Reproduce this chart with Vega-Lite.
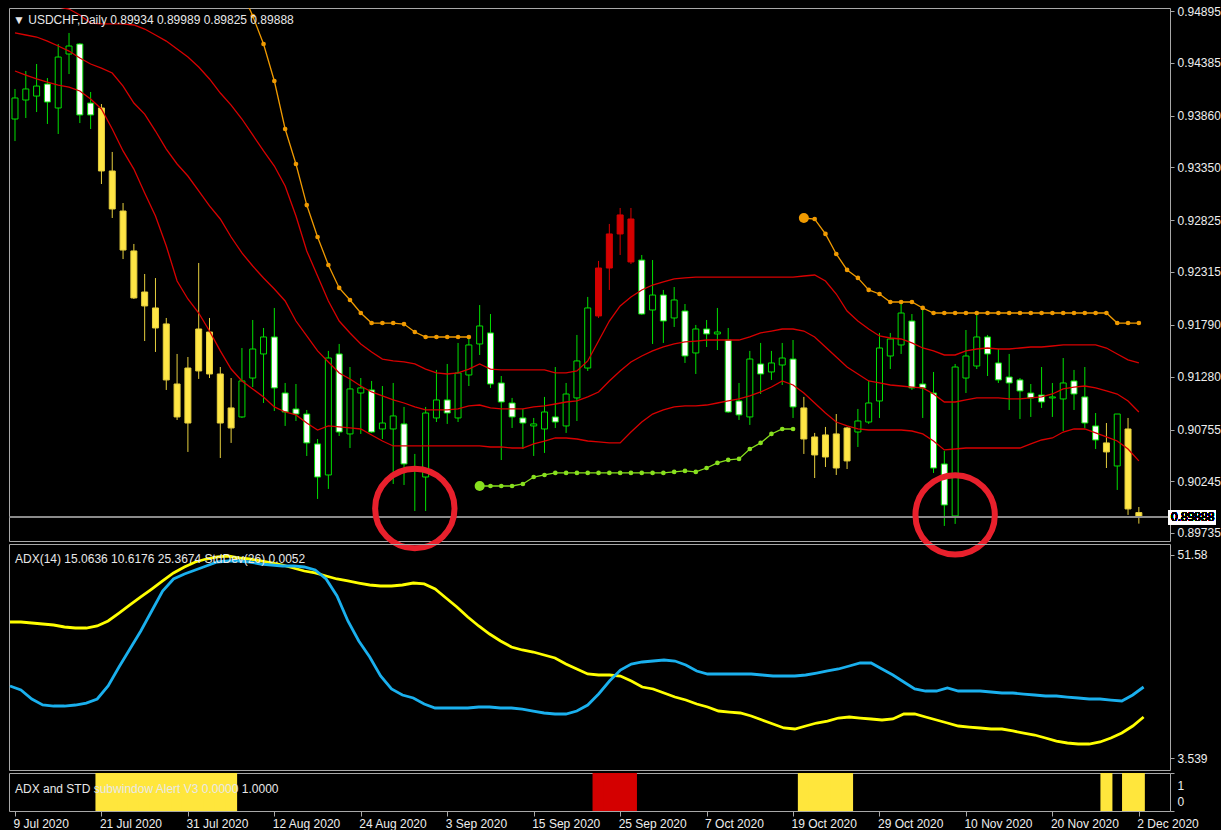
{
"$schema":"https://vega.github.io/schema/vega-lite/v6.json",
"background":"#000000",
"padding":{"left":3,"top":4,"right":0,"bottom":0},
"spacing":3,
"bounds":"flush",
"resolve":{"scale":{"color":"independent","fill":"independent","stroke":"independent"}},
"config":{
 "view":{"stroke":"#a8a8a8","strokeWidth":1},
 "axis":{"labelFont":"Liberation Sans","labelFontSize":12,"labelColor":"#eeeeee","tickColor":"#a8a8a8","domain":false,"grid":false,"labelOverlap":false,"labelFlush":false},
 "title":{"font":"Liberation Sans","fontSize":12,"fontWeight":"normal","color":"#e8e8e8","anchor":"start","frame":"group","baseline":"alphabetic"}
},
"datasets":{
"bars":[
{"i":0,"o":0.93827,"h":0.94124,"l":0.93609,"c":0.94035,"s":"n","u":0.95142,"m":0.94678,"d":0.94302,"a":35.72,"b":20.58},
{"i":1,"o":0.94015,"h":0.94302,"l":0.93837,"c":0.94124,"s":"n","u":0.95073,"m":0.94658,"d":0.94262,"a":35.72,"b":19.63},
{"i":2,"o":0.94054,"h":0.94371,"l":0.93896,"c":0.94153,"s":"n","u":0.95014,"m":0.94638,"d":0.94223,"a":35.49,"b":17.50},
{"i":3,"o":0.94173,"h":0.94232,"l":0.93778,"c":0.93995,"s":"n","u":0.94964,"m":0.94598,"d":0.94193,"a":35.25,"b":16.08},
{"i":4,"o":0.93936,"h":0.94569,"l":0.93679,"c":0.94440,"s":"n","u":0.94935,"m":0.94549,"d":0.94163,"a":35.01,"b":15.84},
{"i":5,"o":0.94470,"h":0.94678,"l":0.94272,"c":0.94549,"s":"n","u":0.94915,"m":0.94499,"d":0.94143,"a":34.54,"b":15.84},
{"i":6,"o":0.94569,"h":0.94579,"l":0.93787,"c":0.93867,"s":"n","u":0.94856,"m":0.94430,"d":0.94104,"a":34.30,"b":16.08},
{"i":7,"o":0.93985,"h":0.94094,"l":0.93728,"c":0.93867,"s":"n","u":0.94776,"m":0.94371,"d":0.94025,"a":34.30,"b":16.55},
{"i":8,"o":0.93936,"h":0.93975,"l":0.93184,"c":0.93313,"s":"y","u":0.94767,"m":0.94331,"d":0.93926,"a":34.78,"b":17.50},
{"i":9,"o":0.93313,"h":0.93501,"l":0.92848,"c":0.92937,"s":"y","u":0.94767,"m":0.94282,"d":0.93728,"a":35.96,"b":20.58},
{"i":10,"o":0.92917,"h":0.92996,"l":0.92442,"c":0.92531,"s":"y","u":0.94767,"m":0.94153,"d":0.93511,"a":37.85,"b":25.07},
{"i":11,"o":0.92522,"h":0.92591,"l":0.92047,"c":0.92057,"s":"y","u":0.94757,"m":0.93985,"d":0.93332,"a":39.75,"b":29.33},
{"i":12,"o":0.92116,"h":0.92294,"l":0.91631,"c":0.91978,"s":"y","u":0.94717,"m":0.93876,"d":0.93095,"a":41.64,"b":33.59},
{"i":13,"o":0.91958,"h":0.92254,"l":0.91523,"c":0.91760,"s":"y","u":0.94658,"m":0.93708,"d":0.92868,"a":43.53,"b":38.33},
{"i":14,"o":0.91800,"h":0.91859,"l":0.91147,"c":0.91246,"s":"y","u":0.94598,"m":0.93530,"d":0.92571,"a":45.43,"b":43.06},
{"i":15,"o":0.91206,"h":0.91503,"l":0.90850,"c":0.90880,"s":"y","u":0.94519,"m":0.93382,"d":0.92225,"a":47.32,"b":45.90},
{"i":16,"o":0.90820,"h":0.91473,"l":0.90534,"c":0.91364,"s":"y","u":0.94440,"m":0.93263,"d":0.92047,"a":48.74,"b":47.08},
{"i":17,"o":0.91335,"h":0.92403,"l":0.91256,"c":0.91750,"s":"y","u":0.94341,"m":0.93115,"d":0.91908,"a":49.92,"b":48.03},
{"i":18,"o":0.91720,"h":0.91859,"l":0.91265,"c":0.91305,"s":"y","u":0.94223,"m":0.92967,"d":0.91730,"a":50.63,"b":48.98},
{"i":19,"o":0.91305,"h":0.91374,"l":0.90474,"c":0.90820,"s":"y","u":0.94084,"m":0.92838,"d":0.91533,"a":51.11,"b":49.92},
{"i":20,"o":0.90771,"h":0.91265,"l":0.90623,"c":0.90969,"s":"y","u":0.93965,"m":0.92660,"d":0.91354,"a":51.34,"b":50.16},
{"i":21,"o":0.90880,"h":0.91562,"l":0.90870,"c":0.91236,"s":"n","u":0.93827,"m":0.92502,"d":0.91236,"a":50.87,"b":50.16},
{"i":22,"o":0.91265,"h":0.91839,"l":0.91176,"c":0.91552,"s":"n","u":0.93669,"m":0.92373,"d":0.91157,"a":50.63,"b":49.92},
{"i":23,"o":0.91503,"h":0.91760,"l":0.91018,"c":0.91671,"s":"n","u":0.93511,"m":0.92255,"d":0.91078,"a":50.16,"b":49.45},
{"i":24,"o":0.91671,"h":0.91958,"l":0.90939,"c":0.91167,"s":"n","u":0.93362,"m":0.92146,"d":0.90979,"a":49.69,"b":49.21},
{"i":25,"o":0.91117,"h":0.91216,"l":0.90791,"c":0.90929,"s":"n","u":0.93164,"m":0.92027,"d":0.90929,"a":49.21,"b":48.98},
{"i":26,"o":0.90959,"h":0.91206,"l":0.90840,"c":0.90909,"s":"n","u":0.92868,"m":0.91829,"d":0.90900,"a":48.50,"b":48.98},
{"i":27,"o":0.90909,"h":0.90949,"l":0.90494,"c":0.90623,"s":"n","u":0.92522,"m":0.91681,"d":0.90820,"a":47.79,"b":48.74},
{"i":28,"o":0.90613,"h":0.90662,"l":0.90069,"c":0.90286,"s":"n","u":0.92274,"m":0.91533,"d":0.90751,"a":47.32,"b":48.03},
{"i":29,"o":0.90306,"h":0.91533,"l":0.90168,"c":0.91463,"s":"n","u":0.92027,"m":0.91424,"d":0.90791,"a":46.61,"b":45.90},
{"i":30,"o":0.91503,"h":0.91602,"l":0.90692,"c":0.90731,"s":"n","u":0.91829,"m":0.91315,"d":0.90781,"a":45.90,"b":41.88},
{"i":31,"o":0.90712,"h":0.91374,"l":0.90573,"c":0.91157,"s":"n","u":0.91711,"m":0.91256,"d":0.90771,"a":45.43,"b":35.96},
{"i":32,"o":0.91117,"h":0.91265,"l":0.90712,"c":0.91167,"s":"n","u":0.91602,"m":0.91186,"d":0.90761,"a":44.95,"b":31.23},
{"i":33,"o":0.91147,"h":0.91236,"l":0.90722,"c":0.90731,"s":"n","u":0.91523,"m":0.91127,"d":0.90702,"a":44.48,"b":27.44},
{"i":34,"o":0.90761,"h":0.91186,"l":0.90662,"c":0.90820,"s":"n","u":0.91453,"m":0.91088,"d":0.90642,"a":44.24,"b":22.94},
{"i":35,"o":0.90761,"h":0.91216,"l":0.90217,"c":0.90890,"s":"n","u":0.91434,"m":0.91048,"d":0.90593,"a":44.24,"b":19.87},
{"i":36,"o":0.90811,"h":0.90979,"l":0.90207,"c":0.90415,"s":"n","u":0.91424,"m":0.91018,"d":0.90593,"a":44.48,"b":18.45},
{"i":37,"o":0.90375,"h":0.90514,"l":0.89950,"c":0.90346,"s":"n","u":0.91404,"m":0.90979,"d":0.90593,"a":44.95,"b":17.74},
{"i":38,"o":0.90286,"h":0.90979,"l":0.89950,"c":0.90919,"s":"n","u":0.91354,"m":0.90949,"d":0.90593,"a":44.72,"b":16.32},
{"i":39,"o":0.90870,"h":0.91345,"l":0.90830,"c":0.91048,"s":"n","u":0.91315,"m":0.90949,"d":0.90593,"a":43.53,"b":15.37},
{"i":40,"o":0.91048,"h":0.91404,"l":0.90811,"c":0.90919,"s":"n","u":0.91305,"m":0.90949,"d":0.90593,"a":41.40,"b":15.37},
{"i":41,"o":0.90870,"h":0.91612,"l":0.90830,"c":0.91315,"s":"n","u":0.91315,"m":0.90959,"d":0.90593,"a":39.27,"b":15.37},
{"i":42,"o":0.91295,"h":0.91661,"l":0.91186,"c":0.91592,"s":"n","u":0.91354,"m":0.90989,"d":0.90593,"a":36.91,"b":15.37},
{"i":43,"o":0.91602,"h":0.91987,"l":0.91493,"c":0.91780,"s":"n","u":0.91404,"m":0.90998,"d":0.90593,"a":34.78,"b":15.61},
{"i":44,"o":0.91711,"h":0.91898,"l":0.91167,"c":0.91206,"s":"n","u":0.91354,"m":0.90969,"d":0.90583,"a":32.88,"b":15.61},
{"i":45,"o":0.91216,"h":0.91285,"l":0.90454,"c":0.91028,"s":"n","u":0.91345,"m":0.90959,"d":0.90583,"a":31.23,"b":15.37},
{"i":46,"o":0.91018,"h":0.91068,"l":0.90771,"c":0.90880,"s":"n","u":0.91345,"m":0.90959,"d":0.90573,"a":29.81,"b":15.37},
{"i":47,"o":0.90870,"h":0.90959,"l":0.90563,"c":0.90820,"s":"n","u":0.91345,"m":0.90959,"d":0.90573,"a":29.10,"b":15.13},
{"i":48,"o":0.90791,"h":0.90870,"l":0.90494,"c":0.90811,"s":"n","u":0.91345,"m":0.90979,"d":0.90613,"a":28.62,"b":14.66},
{"i":49,"o":0.90761,"h":0.91078,"l":0.90524,"c":0.90929,"s":"n","u":0.91345,"m":0.90989,"d":0.90642,"a":27.91,"b":14.19},
{"i":50,"o":0.90880,"h":0.91374,"l":0.90771,"c":0.90830,"s":"n","u":0.91315,"m":0.91008,"d":0.90672,"a":27.20,"b":13.95},
{"i":51,"o":0.90791,"h":0.91216,"l":0.90722,"c":0.91107,"s":"n","u":0.91315,"m":0.91028,"d":0.90672,"a":25.78,"b":13.95},
{"i":52,"o":0.91068,"h":0.91691,"l":0.90840,"c":0.91434,"s":"n","u":0.91335,"m":0.91038,"d":0.90662,"a":24.60,"b":14.66},
{"i":53,"o":0.91364,"h":0.92067,"l":0.91335,"c":0.91958,"s":"n","u":0.91434,"m":0.91078,"d":0.90642,"a":23.42,"b":16.08},
{"i":54,"o":0.91879,"h":0.92423,"l":0.91859,"c":0.92353,"s":"r","u":0.91631,"m":0.91127,"d":0.90633,"a":23.18,"b":18.68},
{"i":55,"o":0.92353,"h":0.92789,"l":0.92136,"c":0.92690,"s":"r","u":0.91829,"m":0.91236,"d":0.90623,"a":23.18,"b":21.76},
{"i":56,"o":0.92690,"h":0.92947,"l":0.92482,"c":0.92878,"s":"r","u":0.91978,"m":0.91335,"d":0.90623,"a":22.94,"b":24.36},
{"i":57,"o":0.92838,"h":0.92947,"l":0.92393,"c":0.92413,"s":"r","u":0.92067,"m":0.91424,"d":0.90731,"a":21.76,"b":25.78},
{"i":58,"o":0.92432,"h":0.92482,"l":0.91889,"c":0.91898,"s":"n","u":0.92136,"m":0.91483,"d":0.90830,"a":20.34,"b":26.26},
{"i":59,"o":0.91938,"h":0.92432,"l":0.91602,"c":0.92086,"s":"n","u":0.92185,"m":0.91533,"d":0.90909,"a":19.87,"b":26.49},
{"i":60,"o":0.92086,"h":0.92136,"l":0.91612,"c":0.91829,"s":"n","u":0.92215,"m":0.91572,"d":0.90949,"a":18.92,"b":26.73},
{"i":61,"o":0.91859,"h":0.92165,"l":0.91770,"c":0.92037,"s":"n","u":0.92245,"m":0.91602,"d":0.90979,"a":17.97,"b":26.49},
{"i":62,"o":0.91928,"h":0.91997,"l":0.91414,"c":0.91483,"s":"n","u":0.92255,"m":0.91622,"d":0.90989,"a":17.26,"b":25.55},
{"i":63,"o":0.91513,"h":0.91790,"l":0.91305,"c":0.91750,"s":"n","u":0.92264,"m":0.91631,"d":0.90989,"a":16.32,"b":24.13},
{"i":64,"o":0.91750,"h":0.91839,"l":0.91572,"c":0.91701,"s":"n","u":0.92264,"m":0.91641,"d":0.90998,"a":15.61,"b":23.42},
{"i":65,"o":0.91701,"h":0.91958,"l":0.91542,"c":0.91720,"s":"n","u":0.92264,"m":0.91641,"d":0.91018,"a":14.66,"b":23.42},
{"i":66,"o":0.91641,"h":0.91760,"l":0.90919,"c":0.90929,"s":"n","u":0.92264,"m":0.91641,"d":0.91038,"a":14.42,"b":23.42},
{"i":67,"o":0.91038,"h":0.91216,"l":0.90850,"c":0.90900,"s":"n","u":0.92264,"m":0.91641,"d":0.91058,"a":14.19,"b":23.42},
{"i":68,"o":0.90880,"h":0.91533,"l":0.90801,"c":0.91453,"s":"n","u":0.92264,"m":0.91671,"d":0.91088,"a":13.48,"b":23.42},
{"i":69,"o":0.91404,"h":0.91612,"l":0.91107,"c":0.91305,"s":"n","u":0.92264,"m":0.91711,"d":0.91127,"a":12.53,"b":23.18},
{"i":70,"o":0.91325,"h":0.91533,"l":0.91246,"c":0.91414,"s":"n","u":0.92264,"m":0.91730,"d":0.91176,"a":11.58,"b":22.94},
{"i":71,"o":0.91394,"h":0.91612,"l":0.91196,"c":0.91463,"s":"n","u":0.92264,"m":0.91750,"d":0.91236,"a":10.64,"b":22.94},
{"i":72,"o":0.91453,"h":0.91641,"l":0.90870,"c":0.90979,"s":"n","u":0.92264,"m":0.91750,"d":0.91196,"a":10.40,"b":22.94},
{"i":73,"o":0.90969,"h":0.91078,"l":0.90514,"c":0.90662,"s":"y","u":0.92274,"m":0.91730,"d":0.91117,"a":11.11,"b":23.18},
{"i":74,"o":0.90682,"h":0.90722,"l":0.90276,"c":0.90504,"s":"y","u":0.92284,"m":0.91671,"d":0.91018,"a":11.82,"b":23.65},
{"i":75,"o":0.90484,"h":0.90781,"l":0.90385,"c":0.90702,"s":"y","u":0.92225,"m":0.91572,"d":0.90919,"a":12.29,"b":24.13},
{"i":76,"o":0.90712,"h":0.90909,"l":0.90306,"c":0.90375,"s":"y","u":0.92096,"m":0.91473,"d":0.90830,"a":13.00,"b":24.60},
{"i":77,"o":0.90445,"h":0.90781,"l":0.90365,"c":0.90771,"s":"y","u":0.91928,"m":0.91374,"d":0.90791,"a":13.24,"b":25.31},
{"i":78,"o":0.90731,"h":0.90959,"l":0.90583,"c":0.90840,"s":"n","u":0.91829,"m":0.91305,"d":0.90761,"a":13.00,"b":26.02},
{"i":79,"o":0.90830,"h":0.91236,"l":0.90811,"c":0.91018,"s":"n","u":0.91750,"m":0.91236,"d":0.90751,"a":12.77,"b":26.02},
{"i":80,"o":0.91038,"h":0.91711,"l":0.90870,"c":0.91562,"s":"n","u":0.91681,"m":0.91216,"d":0.90751,"a":12.53,"b":24.60},
{"i":81,"o":0.91483,"h":0.91711,"l":0.91354,"c":0.91651,"s":"n","u":0.91661,"m":0.91196,"d":0.90751,"a":12.77,"b":23.18},
{"i":82,"o":0.91592,"h":0.92017,"l":0.91503,"c":0.91908,"s":"n","u":0.91651,"m":0.91186,"d":0.90751,"a":13.95,"b":21.52},
{"i":83,"o":0.91829,"h":0.91898,"l":0.91147,"c":0.91167,"s":"n","u":0.91612,"m":0.91176,"d":0.90741,"a":13.95,"b":19.87},
{"i":84,"o":0.91206,"h":0.91958,"l":0.90870,"c":0.91167,"s":"n","u":0.91562,"m":0.91167,"d":0.90712,"a":13.24,"b":19.39},
{"i":85,"o":0.91117,"h":0.91325,"l":0.90326,"c":0.90375,"s":"n","u":0.91533,"m":0.91107,"d":0.90642,"a":12.53,"b":19.39},
{"i":86,"o":0.90415,"h":0.90544,"l":0.89802,"c":0.90009,"s":"n","u":0.91493,"m":0.91028,"d":0.90554,"a":11.82,"b":20.10},
{"i":87,"o":0.89901,"h":0.91404,"l":0.89822,"c":0.91374,"s":"n","u":0.91493,"m":0.91028,"d":0.90563,"a":11.11,"b":19.39},
{"i":88,"o":0.91265,"h":0.91740,"l":0.91117,"c":0.91483,"s":"n","u":0.91533,"m":0.91048,"d":0.90573,"a":10.87,"b":19.39},
{"i":89,"o":0.91384,"h":0.91898,"l":0.91354,"c":0.91671,"s":"n","u":0.91552,"m":0.91068,"d":0.90573,"a":10.64,"b":19.39},
{"i":90,"o":0.91671,"h":0.91691,"l":0.91285,"c":0.91503,"s":"n","u":0.91562,"m":0.91068,"d":0.90573,"a":10.40,"b":19.16},
{"i":91,"o":0.91414,"h":0.91552,"l":0.91216,"c":0.91246,"s":"n","u":0.91552,"m":0.91068,"d":0.90573,"a":10.40,"b":18.92},
{"i":92,"o":0.91275,"h":0.91503,"l":0.90949,"c":0.91216,"s":"n","u":0.91552,"m":0.91058,"d":0.90573,"a":9.93,"b":18.92},
{"i":93,"o":0.91246,"h":0.91265,"l":0.90860,"c":0.91137,"s":"n","u":0.91562,"m":0.91058,"d":0.90573,"a":9.45,"b":18.68},
{"i":94,"o":0.91117,"h":0.91206,"l":0.90880,"c":0.91068,"s":"n","u":0.91572,"m":0.91068,"d":0.90613,"a":8.98,"b":18.45},
{"i":95,"o":0.91097,"h":0.91374,"l":0.90969,"c":0.91028,"s":"n","u":0.91572,"m":0.91078,"d":0.90652,"a":8.27,"b":18.21},
{"i":96,"o":0.91068,"h":0.91216,"l":0.90880,"c":0.91078,"s":"n","u":0.91582,"m":0.91107,"d":0.90672,"a":7.56,"b":18.21},
{"i":97,"o":0.91058,"h":0.91463,"l":0.90741,"c":0.91216,"s":"n","u":0.91592,"m":0.91157,"d":0.90731,"a":7.09,"b":17.97},
{"i":98,"o":0.91236,"h":0.91345,"l":0.90949,"c":0.91107,"s":"n","u":0.91592,"m":0.91176,"d":0.90761,"a":6.85,"b":17.74},
{"i":99,"o":0.91078,"h":0.91374,"l":0.90771,"c":0.90820,"s":"n","u":0.91592,"m":0.91186,"d":0.90761,"a":6.85,"b":17.50},
{"i":100,"o":0.90791,"h":0.90919,"l":0.90563,"c":0.90652,"s":"n","u":0.91592,"m":0.91167,"d":0.90722,"a":7.33,"b":17.50},
{"i":101,"o":0.90623,"h":0.90820,"l":0.90375,"c":0.90534,"s":"y","u":0.91562,"m":0.91137,"d":0.90682,"a":8.27,"b":17.26},
{"i":102,"o":0.90395,"h":0.90909,"l":0.90158,"c":0.90909,"s":"n","u":0.91503,"m":0.91107,"d":0.90642,"a":9.45,"b":17.03},
{"i":103,"o":0.90761,"h":0.90870,"l":0.89911,"c":0.89970,"s":"y","u":0.91444,"m":0.91038,"d":0.90563,"a":11.11,"b":18.45},
{"i":104,"o":0.89934,"h":0.89989,"l":0.89825,"c":0.89888,"s":"y","u":0.91414,"m":0.90929,"d":0.90445,"a":13.24,"b":20.34}
],
"dots":[
{"i":21,"v":0.95093,"seg":"r1"},{"i":22,"v":0.94846,"seg":"r1"},{"i":23,"v":0.94569,"seg":"r1"},{"i":24,"v":0.94203,"seg":"r1"},{"i":25,"v":0.93728,"seg":"r1"},{"i":26,"v":0.93382,"seg":"r1"},{"i":27,"v":0.92976,"seg":"r1"},{"i":28,"v":0.92660,"seg":"r1"},{"i":29,"v":0.92383,"seg":"r1"},{"i":30,"v":0.92156,"seg":"r1"},{"i":31,"v":0.92037,"seg":"r1"},{"i":32,"v":0.91908,"seg":"r1"},{"i":33,"v":0.91809,"seg":"r1"},{"i":34,"v":0.91809,"seg":"r1"},{"i":35,"v":0.91809,"seg":"r1"},{"i":36,"v":0.91799,"seg":"r1"},{"i":37,"v":0.91720,"seg":"r1"},{"i":38,"v":0.91671,"seg":"r1"},{"i":39,"v":0.91671,"seg":"r1"},{"i":40,"v":0.91671,"seg":"r1"},{"i":41,"v":0.91671,"seg":"r1"},{"i":42,"v":0.91671,"seg":"r1"},
{"i":73,"v":0.92848,"seg":"r2"},{"i":74,"v":0.92838,"seg":"r2"},{"i":75,"v":0.92690,"seg":"r2"},{"i":76,"v":0.92492,"seg":"r2"},{"i":77,"v":0.92334,"seg":"r2"},{"i":78,"v":0.92255,"seg":"r2"},{"i":79,"v":0.92136,"seg":"r2"},{"i":80,"v":0.92096,"seg":"r2"},{"i":81,"v":0.92017,"seg":"r2"},{"i":82,"v":0.92017,"seg":"r2"},{"i":83,"v":0.92017,"seg":"r2"},{"i":84,"v":0.91958,"seg":"r2"},{"i":85,"v":0.91908,"seg":"r2"},{"i":86,"v":0.91908,"seg":"r2"},{"i":87,"v":0.91908,"seg":"r2"},{"i":88,"v":0.91908,"seg":"r2"},{"i":89,"v":0.91908,"seg":"r2"},{"i":90,"v":0.91908,"seg":"r2"},{"i":91,"v":0.91908,"seg":"r2"},{"i":92,"v":0.91908,"seg":"r2"},{"i":93,"v":0.91908,"seg":"r2"},{"i":94,"v":0.91908,"seg":"r2"},{"i":95,"v":0.91908,"seg":"r2"},{"i":96,"v":0.91908,"seg":"r2"},{"i":97,"v":0.91908,"seg":"r2"},{"i":98,"v":0.91908,"seg":"r2"},{"i":99,"v":0.91908,"seg":"r2"},{"i":100,"v":0.91908,"seg":"r2"},{"i":101,"v":0.91908,"seg":"r2"},{"i":102,"v":0.91809,"seg":"r2"},{"i":103,"v":0.91809,"seg":"r2"},{"i":104,"v":0.91809,"seg":"r2"},
{"i":43,"v":0.90197,"seg":"s1"},{"i":44,"v":0.90197,"seg":"s1"},{"i":45,"v":0.90197,"seg":"s1"},{"i":46,"v":0.90197,"seg":"s1"},{"i":47,"v":0.90217,"seg":"s1"},{"i":48,"v":0.90286,"seg":"s1"},{"i":49,"v":0.90306,"seg":"s1"},{"i":50,"v":0.90326,"seg":"s1"},{"i":51,"v":0.90326,"seg":"s1"},{"i":52,"v":0.90326,"seg":"s1"},{"i":53,"v":0.90326,"seg":"s1"},{"i":54,"v":0.90326,"seg":"s1"},{"i":55,"v":0.90326,"seg":"s1"},{"i":56,"v":0.90326,"seg":"s1"},{"i":57,"v":0.90326,"seg":"s1"},{"i":58,"v":0.90326,"seg":"s1"},{"i":59,"v":0.90326,"seg":"s1"},{"i":60,"v":0.90326,"seg":"s1"},{"i":61,"v":0.90336,"seg":"s1"},{"i":62,"v":0.90346,"seg":"s1"},{"i":63,"v":0.90336,"seg":"s1"},{"i":64,"v":0.90375,"seg":"s1"},{"i":65,"v":0.90425,"seg":"s1"},{"i":66,"v":0.90455,"seg":"s1"},{"i":67,"v":0.90465,"seg":"s1"},{"i":68,"v":0.90563,"seg":"s1"},{"i":69,"v":0.90623,"seg":"s1"},{"i":70,"v":0.90712,"seg":"s1"},{"i":71,"v":0.90761,"seg":"s1"},{"i":72,"v":0.90761,"seg":"s1"}
],
"rings":[{"i":37,"p":0.89975},{"i":87,"p":0.89911}]
},
"vconcat":[
{
"width":1161,"height":533,
"title":{"text":"▼ USDCHF,Daily  0.89934 0.89989 0.89825 0.89888","offset":-22,"dx":4},
"data":{"name":"bars"},
"transform":[{"calculate":"datum.s == 'n' ? (datum.c >= datum.o ? 'up' : 'dn') : datum.s","as":"k"}],
"layer":[
{"mark":{"type":"rule","strokeWidth":1,"clip":true},
 "encoding":{
  "x":{"field":"i","type":"quantitative","scale":{"domain":[-0.0917,106.42],"nice":false,"zero":false},"axis":null},
  "y":{"field":"l","type":"quantitative","scale":{"domain":[0.89653,0.94925],"nice":false,"zero":false},"title":null,
       "axis":{"orient":"right","values":[0.94895,0.94385,0.9386,0.9335,0.92825,0.92315,0.9179,0.9128,0.90755,0.90245,0.89735],"format":".5f","tickSize":4,"labelPadding":3,"title":null}},
  "y2":{"field":"h","title":null},
  "stroke":{"field":"k","type":"nominal","scale":{"domain":["up","dn","y","r"],"range":["#00e000","#00e000","#e6cf3e","#d40000"]},"legend":null}}},
{"mark":{"type":"bar","width":6,"strokeWidth":1,"orient":"vertical","clip":true},
 "encoding":{
  "x":{"field":"i","type":"quantitative","scale":{"domain":[-0.0917,106.42],"nice":false,"zero":false},"axis":null},
  "y":{"field":"o","type":"quantitative","scale":{"domain":[0.89653,0.94925],"nice":false,"zero":false},"title":null,
       "axis":{"orient":"right","values":[0.94895,0.94385,0.9386,0.9335,0.92825,0.92315,0.9179,0.9128,0.90755,0.90245,0.89735],"format":".5f","tickSize":4,"labelPadding":3,"title":null}},
  "y2":{"field":"c","title":null},
  "fill":{"field":"k","type":"nominal","scale":{"domain":["up","dn","y","r"],"range":["#000000","#ffffff","#ffe645","#d40000"]},"legend":null},
  "stroke":{"field":"k","type":"nominal","legend":null}}},
{"mark":{"type":"line","color":"#d80000","strokeWidth":1.3,"clip":true},
 "encoding":{
  "x":{"field":"i","type":"quantitative","scale":{"domain":[-0.0917,106.42],"nice":false,"zero":false},"axis":null},
  "y":{"field":"u","type":"quantitative","scale":{"domain":[0.89653,0.94925],"nice":false,"zero":false},"title":null,
       "axis":{"orient":"right","values":[0.94895,0.94385,0.9386,0.9335,0.92825,0.92315,0.9179,0.9128,0.90755,0.90245,0.89735],"format":".5f","tickSize":4,"labelPadding":3,"title":null}}}},
{"mark":{"type":"line","color":"#d80000","strokeWidth":1.3,"clip":true},
 "encoding":{
  "x":{"field":"i","type":"quantitative","scale":{"domain":[-0.0917,106.42],"nice":false,"zero":false},"axis":null},
  "y":{"field":"m","type":"quantitative","scale":{"domain":[0.89653,0.94925],"nice":false,"zero":false},"title":null,
       "axis":{"orient":"right","values":[0.94895,0.94385,0.9386,0.9335,0.92825,0.92315,0.9179,0.9128,0.90755,0.90245,0.89735],"format":".5f","tickSize":4,"labelPadding":3,"title":null}}}},
{"mark":{"type":"line","color":"#d80000","strokeWidth":1.3,"clip":true},
 "encoding":{
  "x":{"field":"i","type":"quantitative","scale":{"domain":[-0.0917,106.42],"nice":false,"zero":false},"axis":null},
  "y":{"field":"d","type":"quantitative","scale":{"domain":[0.89653,0.94925],"nice":false,"zero":false},"title":null,
       "axis":{"orient":"right","values":[0.94895,0.94385,0.9386,0.9335,0.92825,0.92315,0.9179,0.9128,0.90755,0.90245,0.89735],"format":".5f","tickSize":4,"labelPadding":3,"title":null}}}},
{"mark":{"type":"rule","color":"#8c8c8c","strokeWidth":1},
 "encoding":{
  "y":{"datum":0.89888,"type":"quantitative","scale":{"domain":[0.89653,0.94925],"nice":false,"zero":false},"title":null,
       "axis":{"orient":"right","values":[0.94895,0.94385,0.9386,0.9335,0.92825,0.92315,0.9179,0.9128,0.90755,0.90245,0.89735],"format":".5f","tickSize":4,"labelPadding":3,"title":null}}}},
{"data":{"name":"dots"},
 "mark":{"type":"line","strokeWidth":1.3,"clip":true},
 "encoding":{
  "x":{"field":"i","type":"quantitative","scale":{"domain":[-0.0917,106.42],"nice":false,"zero":false},"axis":null},
  "y":{"field":"v","type":"quantitative","scale":{"domain":[0.89653,0.94925],"nice":false,"zero":false},"title":null,
       "axis":{"orient":"right","values":[0.94895,0.94385,0.9386,0.9335,0.92825,0.92315,0.9179,0.9128,0.90755,0.90245,0.89735],"format":".5f","tickSize":4,"labelPadding":3,"title":null}},
  "detail":{"field":"seg","type":"nominal"},
  "color":{"field":"seg","type":"nominal","scale":{"domain":["r1","r2","s1"],"range":["#f09a00","#f09a00","#88e01e"]},"legend":null}}},
{"data":{"name":"dots"},
 "mark":{"type":"point","filled":true,"size":22,"opacity":1,"clip":true},
 "encoding":{
  "x":{"field":"i","type":"quantitative","scale":{"domain":[-0.0917,106.42],"nice":false,"zero":false},"axis":null},
  "y":{"field":"v","type":"quantitative","scale":{"domain":[0.89653,0.94925],"nice":false,"zero":false},"title":null,
       "axis":{"orient":"right","values":[0.94895,0.94385,0.9386,0.9335,0.92825,0.92315,0.9179,0.9128,0.90755,0.90245,0.89735],"format":".5f","tickSize":4,"labelPadding":3,"title":null}},
  "color":{"field":"seg","type":"nominal","legend":null}}},
{"data":{"name":"dots"},
 "transform":[{"joinaggregate":[{"op":"min","field":"i","as":"i0"}],"groupby":["seg"]},{"filter":"datum.i == datum.i0"}],
 "mark":{"type":"point","filled":true,"size":100,"opacity":1,"clip":true},
 "encoding":{
  "x":{"field":"i","type":"quantitative","scale":{"domain":[-0.0917,106.42],"nice":false,"zero":false},"axis":null},
  "y":{"field":"v","type":"quantitative","scale":{"domain":[0.89653,0.94925],"nice":false,"zero":false},"title":null,
       "axis":{"orient":"right","values":[0.94895,0.94385,0.9386,0.9335,0.92825,0.92315,0.9179,0.9128,0.90755,0.90245,0.89735],"format":".5f","tickSize":4,"labelPadding":3,"title":null}},
  "color":{"field":"seg","type":"nominal","legend":null}}},
{"data":{"name":"rings"},
 "mark":{"type":"point","shape":"circle","filled":false,"size":6300,"stroke":"#e8202c","strokeWidth":6,"opacity":1},
 "encoding":{
  "x":{"field":"i","type":"quantitative","scale":{"domain":[-0.0917,106.42],"nice":false,"zero":false},"axis":null},
  "y":{"field":"p","type":"quantitative","scale":{"domain":[0.89653,0.94925],"nice":false,"zero":false},"title":null,
       "axis":{"orient":"right","values":[0.94895,0.94385,0.9386,0.9335,0.92825,0.92315,0.9179,0.9128,0.90755,0.90245,0.89735],"format":".5f","tickSize":4,"labelPadding":3,"title":null}}}},
{"mark":{"type":"point","shape":"M-1,-0.3H1V0.3H-1Z","filled":true,"color":"#ffffff","size":2209,"opacity":1,"xOffset":27},
 "encoding":{
  "x":{"datum":106.42,"type":"quantitative","scale":{"domain":[-0.0917,106.42],"nice":false,"zero":false},"axis":null},
  "y":{"datum":0.89888,"type":"quantitative","scale":{"domain":[0.89653,0.94925],"nice":false,"zero":false},"title":null,
       "axis":{"orient":"right","values":[0.94895,0.94385,0.9386,0.9335,0.92825,0.92315,0.9179,0.9128,0.90755,0.90245,0.89735],"format":".5f","tickSize":4,"labelPadding":3,"title":null}}}},
{"mark":{"type":"text","align":"left","baseline":"middle","color":"#000000","font":"Liberation Sans","fontSize":12,"xOffset":6},
 "encoding":{
  "x":{"datum":106.42,"type":"quantitative","scale":{"domain":[-0.0917,106.42],"nice":false,"zero":false},"axis":null},
  "y":{"datum":0.89888,"type":"quantitative","scale":{"domain":[0.89653,0.94925],"nice":false,"zero":false},"title":null,
       "axis":{"orient":"right","values":[0.94895,0.94385,0.9386,0.9335,0.92825,0.92315,0.9179,0.9128,0.90755,0.90245,0.89735],"format":".5f","tickSize":4,"labelPadding":3,"title":null}},
  "text":{"value":"0.89888"}}}
]
},
{
"width":1161,"height":226,
"title":{"text":"ADX(14) 15.0636 10.6176 25.3674  StdDev(26) 0.0052","offset":-22,"dx":6},
"data":{"name":"bars"},
"layer":[
{"mark":{"type":"line","color":"#ffff00","strokeWidth":2.8},
 "encoding":{
  "x":{"field":"i","type":"quantitative","scale":{"domain":[-0.0917,106.42],"nice":false,"zero":false},"axis":null},
  "y":{"field":"a","type":"quantitative","scale":{"domain":[0.70,54.18],"nice":false,"zero":false},"title":null,
       "axis":{"orient":"right","values":[51.58,3.539],"labelExpr":"'' + datum.value","tickSize":4,"labelPadding":3,"title":null}}}},
{"mark":{"type":"line","color":"#1ab0ee","strokeWidth":2.8},
 "encoding":{
  "x":{"field":"i","type":"quantitative","scale":{"domain":[-0.0917,106.42],"nice":false,"zero":false},"axis":null},
  "y":{"field":"b","type":"quantitative","scale":{"domain":[0.70,54.18],"nice":false,"zero":false},"title":null,
       "axis":{"orient":"right","values":[51.58,3.539],"labelExpr":"'' + datum.value","tickSize":4,"labelPadding":3,"title":null}}}}
]
},
{
"width":1161,"height":38,
"title":{"text":"ADX and STD subwindow Alert V3 0.0000 1.0000","offset":-23,"dx":6},
"data":{"name":"bars"},
"transform":[{"filter":"datum.s != 'n'"}],
"mark":{"type":"bar","width":12,"orient":"vertical"},
"encoding":{
 "x":{"field":"i","type":"quantitative","scale":{"domain":[-0.0917,106.42],"nice":false,"zero":false},"title":null,
      "axis":{"values":[0,8,16,24,32,40,48,56,64,72,80,88,96,104],"labelExpr":"['9 Jul 2020','21 Jul 2020','31 Jul 2020','12 Aug 2020','24 Aug 2020','3 Sep 2020','15 Sep 2020','25 Sep 2020','7 Oct 2020','19 Oct 2020','29 Oct 2020','10 Nov 2020','20 Nov 2020','2 Dec 2020'][round(datum.value/8)]","labelAlign":"left","labelOffset":-2,"tickSize":5,"labelPadding":2}},
 "y":{"datum":1,"type":"quantitative","scale":{"domain":[0,1],"nice":false},"title":null,
      "axis":{"orient":"right","values":[0,1],"format":"d","tickSize":4,"labelPadding":3,"labelOffset":{"condition":{"test":"datum.value == 1","value":12},"value":-10}}},
 "color":{"field":"s","type":"nominal","scale":{"domain":["y","r"],"range":["#ffe63c","#d40000"]},"legend":null}
}
}
]
}
